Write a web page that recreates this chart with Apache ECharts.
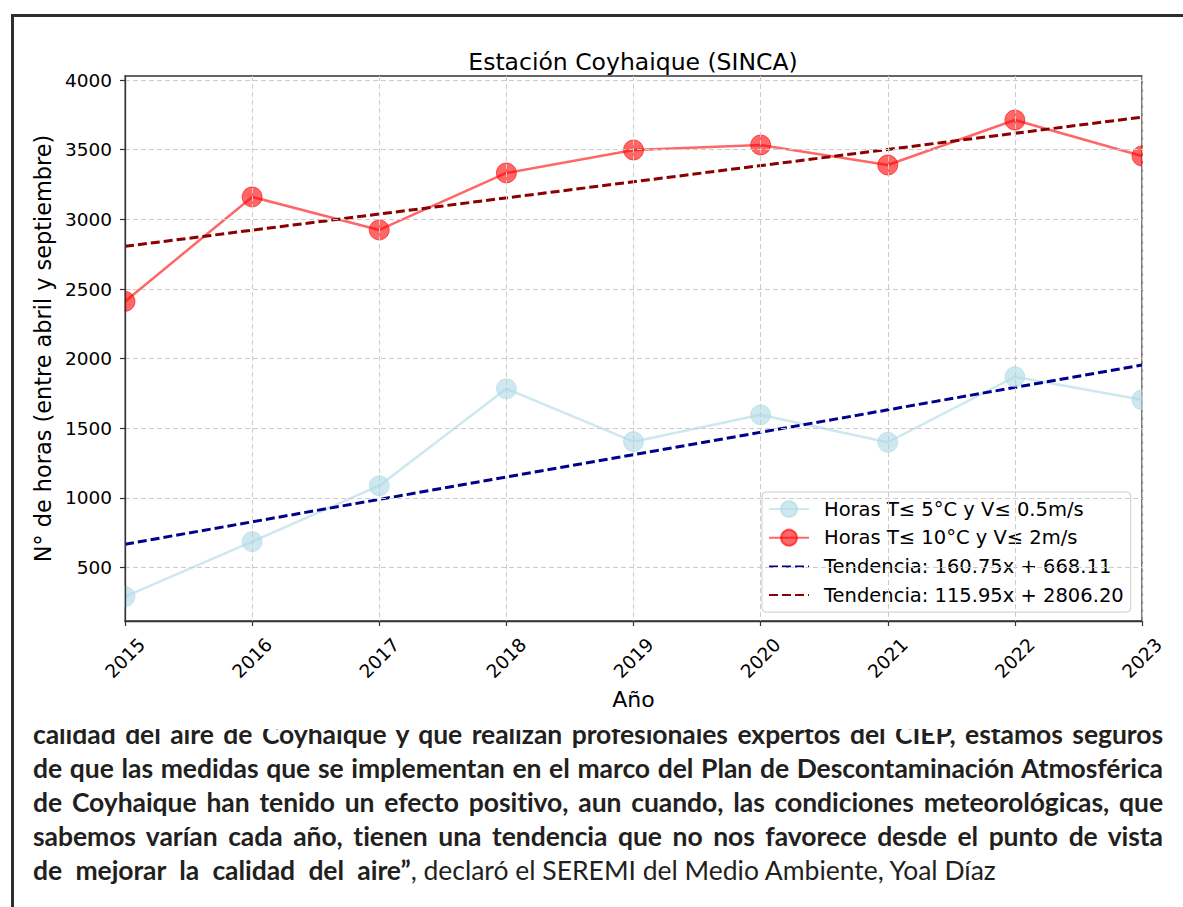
<!DOCTYPE html>
<html>
<head>
<meta charset="utf-8">
<script src="https://cdn.jsdelivr.net/npm/echarts@6/dist/echarts.min.js"></script>
<style>
  body { margin: 0; width: 1183px; height: 907px; overflow: hidden; background: #fff; position: relative; }
  #frame { position: absolute; left: 11px; top: 14px; width: 1300px; height: 1000px;
           border-left: 3px solid #2e2e2e; border-top: 3px solid #2e2e2e; }
  #main { position: absolute; left: 15px; top: 17px; width: 1168px; height: 712px; background: #fff; z-index: 2; }
  #text { position: absolute; left: 33px; top: 716.5px; width: 1130px; z-index: 1;
          font-family: Lato, "Open Sans", sans-serif; font-size: 26.5px; line-height: 34px; color: #231f20; }
  #text .l { font-weight: bold; text-align: justify; text-align-last: justify; white-space: nowrap; }
  #text .last { text-align: left; white-space: nowrap; }
  #text .last b { word-spacing: 7px; }
  #text .last span { font-weight: normal; }
</style>
</head>
<body>
<div id="frame"></div>
<div id="text">
  <div class="l"><span>calidad del aire de Coyhaique y que realizan profesionales expertos del CIEP, estamos seguros</span></div>
  <div class="l"><span>de que las medidas que se implementan en el marco del Plan de Descontaminación Atmosférica</span></div>
  <div class="l"><span>de Coyhaique han tenido un efecto positivo, aun cuando, las condiciones meteorológicas, que</span></div>
  <div class="l"><span>sabemos varían cada año, tienen una tendencia que no nos favorece desde el punto de vista</span></div>
  <div class="last"><b>de mejorar la calidad del aire”</b><span>, declaró el SEREMI del Medio Ambiente, Yoal Díaz</span></div>
</div>
<div id="main"></div>
<script>
var years = ['2015', '2016', '2017', '2018', '2019', '2020', '2021', '2022', '2023'];
var horas5 = [292, 687, 1088, 1784, 1404, 1597, 1400, 1870, 1705];
var horas10 = [2411, 3161, 2924, 3333, 3498, 3534, 3390, 3713, 3455];
// trend line ends, read at 2015 and 2023
var trend5 = [668.11, 1954.11];
var trend10 = [2806.20, 3733.80];
var yTicks = [500, 1000, 1500, 2000, 2500, 3000, 3500, 4000];

// bold lines: spread letters a bit so the words sit tight like the original
var lines = document.querySelectorAll('#text .l span');
var lsSum = 0;
lines.forEach(function (s) {
    var w = s.getBoundingClientRect().width;
    var ls = Math.max(-1, Math.min(1.5, (1124 - w) / s.textContent.length));
    s.style.letterSpacing = ls + 'px';
    lsSum += ls;
});
document.querySelector('#text .last b').style.letterSpacing = (lsSum / lines.length) + 'px';

var font = 'DejaVu Sans';
var blue = 'rgba(173,216,230,0.6)';
var red = 'rgba(255,0,0,0.6)';
var names = [
    'Horas T≤ 5°C y V≤ 0.5m/s',
    'Horas T≤ 10°C y V≤ 2m/s',
    'Tendencia: 160.75x + 668.11',
    'Tendencia: 115.95x + 2806.20'
];

var myChart = echarts.init(document.getElementById('main'), null, {renderer: 'svg'});

var option = {
    animation: false,
    title: {
        text: 'Estación Coyhaique (SINCA)',
        left: 613,
        textAlign: 'center',
        top: 28,
        textStyle: { fontFamily: font, fontSize: 23.5, fontWeight: 'normal', color: '#000' }
    },
    legend: {
        orient: 'vertical',
        left: 747,
        top: 475,
        itemWidth: 40,
        itemHeight: 20,
        itemGap: 8.7,
        padding: [7, 7, 7, 6],
        backgroundColor: 'rgba(255,255,255,0.8)',
        borderColor: '#cccccc',
        borderWidth: 1,
        borderRadius: 4,
        textStyle: { fontFamily: font, fontSize: 19.5, color: '#000', padding: [0, 0, 0, 10] },
        data: [
            names[0],
            names[1],
            { name: names[2], itemStyle: { opacity: 0 } },
            { name: names[3], itemStyle: { opacity: 0 } }
        ]
    },
    grid: {
        left: 110,
        right: 41,
        top: 59,
        bottom: 108,
        show: true,
        borderColor: '#333',
        borderWidth: 1.3
    },
    xAxis: {
        type: 'category',
        data: years,
        boundaryGap: false,
        z: 5,
        name: 'Año',
        nameLocation: 'middle',
        nameGap: 66,
        nameTextStyle: { fontFamily: font, fontSize: 22, color: '#000' },
        axisLine: { lineStyle: { color: '#333', width: 1.3 } },
        axisTick: { length: 5, lineStyle: { color: '#333', width: 1.2 } },
        axisLabel: {
            rotate: 45, margin: 37, align: 'center', verticalAlign: 'middle',
            fontFamily: font, fontSize: 18.5, color: '#000', interval: 0
        },
        splitLine: { show: true, lineStyle: { color: '#cccccc', type: [5, 3], width: 1 } }
    },
    yAxis: {
        type: 'value',
        min: 117,
        max: 4029,
        z: 5,
        name: 'N° de horas (entre abril y septiembre)',
        nameLocation: 'middle',
        nameGap: 67,
        nameTextStyle: { fontFamily: font, fontSize: 22.4, color: '#000' },
        axisLine: { show: true, lineStyle: { color: '#333', width: 1.3 } },
        axisTick: { show: true, length: 5, customValues: yTicks, lineStyle: { color: '#333', width: 1.2 } },
        axisLabel: {
            customValues: yTicks, margin: 13, fontFamily: font, fontSize: 18.5, color: '#000',
            formatter: function (v) { return String(v); }
        },
        splitLine: { show: true, lineStyle: { color: '#cccccc', type: [5, 3], width: 1 } }
    },
    series: [
        {
            name: names[0],
            type: 'line',
            data: horas5,
            symbol: 'circle',
            symbolSize: 20,
            itemStyle: { color: blue, borderColor: blue, borderWidth: 1 },
            lineStyle: { color: blue, width: 2.5 }
        },
        {
            name: names[1],
            type: 'line',
            data: horas10,
            symbol: 'circle',
            symbolSize: 20,
            itemStyle: { color: red, borderColor: red, borderWidth: 1 },
            lineStyle: { color: red, width: 2.5 }
        },
        {
            name: names[2],
            type: 'line',
            data: [[years[0], trend5[0]], [years[years.length - 1], trend5[1]]],
            symbol: 'none',
            itemStyle: { color: '#00008b' },
            lineStyle: { color: '#00008b', width: 3, type: [9, 4] }
        },
        {
            name: names[3],
            type: 'line',
            data: [[years[0], trend10[0]], [years[years.length - 1], trend10[1]]],
            symbol: 'none',
            itemStyle: { color: '#8b0000' },
            lineStyle: { color: '#8b0000', width: 3, type: [9, 4] }
        }
    ]
};

myChart.setOption(option);

// white masks so markers at the first/last year get cut at the spines, like the original
var x0 = myChart.convertToPixel({xAxisIndex: 0}, years[0]);
var x1 = myChart.convertToPixel({xAxisIndex: 0}, years[years.length - 1]);
var yTop = myChart.convertToPixel({yAxisIndex: 0}, 4029);
var yBot = myChart.convertToPixel({yAxisIndex: 0}, 117);
myChart.setOption({
    graphic: [
        { type: 'rect', z: 4, silent: true, shape: { x: x0 - 14, y: yTop + 1, width: 13.3, height: yBot - yTop - 2 }, style: { fill: '#fff' } },
        { type: 'rect', z: 4, silent: true, shape: { x: x1 + 0.8, y: yTop + 1, width: 14, height: yBot - yTop - 2 }, style: { fill: '#fff' } }
    ]
});
</script>
</body>
</html>
